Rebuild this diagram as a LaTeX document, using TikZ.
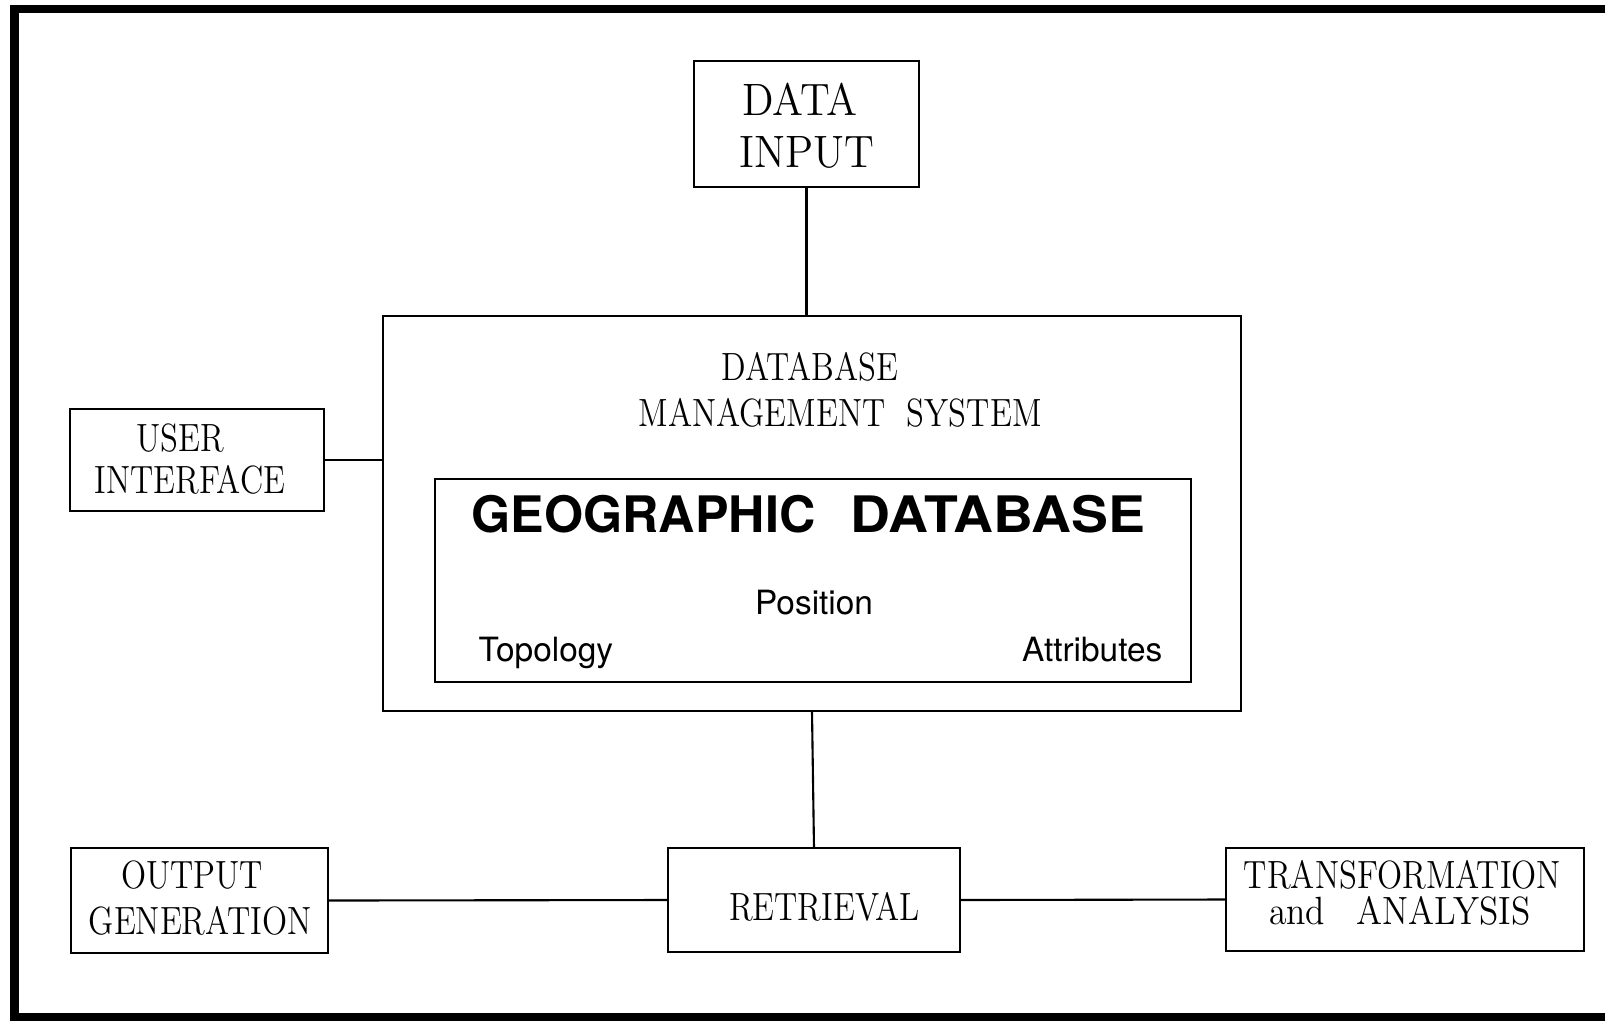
\documentclass[tikz,border=0pt]{standalone}
\usepackage{fontspec}
\usepackage{graphicx}
\newfontfamily\heros{TeX Gyre Heros}
% condensed serif labels
\newcommand{\plotlabel}[1]{\scalebox{0.835}[1]{#1}}
\newcommand{\plotlabelbig}[1]{\scalebox{0.93}[1]{#1}}
\begin{document}
\begin{tikzpicture}[x=0.01cm,y=-0.01cm,
  box/.style={draw, line width=0.6pt, inner sep=0pt, outer sep=0pt},
  link/.style={line width=0.6pt},
  frame/.style={line width=2.3pt},
  serif/.style={inner sep=0pt, anchor=base, font=\fontsize{11.2}{13}\selectfont},
  serifbig/.style={inner sep=0pt, anchor=base, font=\fontsize{12.9}{15}\selectfont},
  sanslabel/.style={inner sep=0pt, font=\heros\fontsize{9.5}{11}\selectfont},
  sanstitle/.style={inner sep=0pt, anchor=base west, font=\heros\bfseries\fontsize{14.3}{16}\selectfont}]
\useasboundingbox (0,0) rectangle (1605,1020);

% outer frame (open on the right)
\draw[frame] (10,9) -- (1605,9);
\draw[frame] (14.5,5) -- (14.5,1020);
\draw[frame] (10,1017) -- (1605,1017);

% boxes
\node[box, minimum width=2.25cm, minimum height=1.26cm] (datain) at (806.5,124) {};
\node[box, minimum width=8.58cm, minimum height=3.95cm] (dbms) at (812,513.5) {};
\node[box, minimum width=7.56cm, minimum height=2.03cm] (geodb) at (813,580.5) {};
\node[box, minimum width=2.54cm, minimum height=1.02cm] (ui) at (197,460) {};
\node[box, minimum width=2.57cm, minimum height=1.05cm] (outgen) at (199.5,900.5) {};
\node[box, minimum width=2.92cm, minimum height=1.04cm] (retr) at (814,900) {};
\node[box, minimum width=3.58cm, minimum height=1.03cm] (trans) at (1405,899.5) {};

% connectors
\draw[link] (datain.south) -- (datain.south |- dbms.north);
\draw[link] (ui.east) -- (ui.east -| dbms.west);
\draw[link] (dbms.south) -- (retr.north);
\draw[link] (outgen.east) -- (retr.west);
\draw[link] (retr.east) -- (trans.west);

% labels
\node[serifbig] (tdata) at (800,115) {\plotlabelbig{DATA}};
\node[serifbig] (tinput) at (807,167) {\plotlabelbig{INPUT}};

\node[serif] (tuser) at (180.5,451) {\plotlabel{USER}};
\node[serif] (tinterface) at (190,493) {\plotlabel{INTERFACE}};

\node[serif] (tdatabase) at (810,380) {\plotlabel{DATABASE}};
\node[serif] (tmanage) at (840,426) {\plotlabel{MANAGEMENT\ \ SYSTEM}};

\node[sanstitle] (tgeo) at (471,532) {GEOGRAPHIC\hspace{10pt}\scalebox{1.1}[1]{DATABASE}};
\node[sanslabel, anchor=base] (tpos) at (814,614) {Position};
\node[sanslabel, anchor=base west] (ttopo) at (478,661) {Topology};
\node[sanslabel, anchor=base east] (tattr) at (1163,661) {Attributes};

\node[serif] (toutput) at (192,888) {\plotlabel{OUTPUT}};
\node[serif] (tgeneration) at (200,934) {\plotlabel{GENERATION}};

\node[serif] (tretr) at (824.5,920) {\plotlabel{RETRIEVAL}};

\node[serif] (ttrans) at (1402.5,888) {\plotlabel{TRANSFORMATION}};
\node[serif] (tanal) at (1400,924) {\scalebox{0.9}[1]{and\hspace{10pt}ANALYSIS}};
\end{tikzpicture}
\end{document}
